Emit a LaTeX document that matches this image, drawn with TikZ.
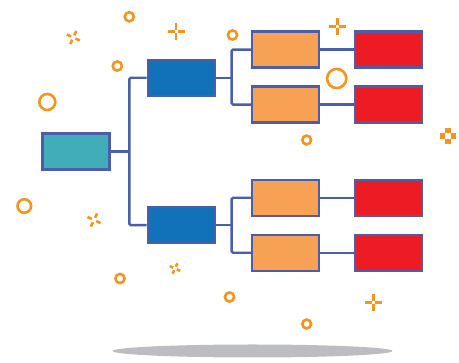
\documentclass[tikz,border=0pt]{standalone}
\usetikzlibrary{calc}
\begin{document}
\begin{tikzpicture}[x=1pt,y=-1pt,
  edgeblue/.style={draw=lineblue,line width=2.4pt},
  boxbase/.style={edgeblue,rectangle,inner sep=0pt,minimum width=67pt,minimum height=36pt},
  tealbox/.style={boxbase,fill=tealc},
  bluebox/.style={boxbase,fill=bluec},
  orangebox/.style={boxbase,fill=orangec},
  redbox/.style={boxbase,fill=redc},
  conn/.style={draw=lineblue,line width=2.4pt,rounded corners=1.5pt},
  ring/.style={draw=deco,line width=2.6pt,fill=none},
  deco line/.style={draw=deco,line width=2.8pt},
]
\definecolor{lineblue}{RGB}{74,94,172}
\definecolor{tealc}{RGB}{65,173,184}
\definecolor{bluec}{RGB}{17,114,186}
\definecolor{orangec}{RGB}{247,161,84}
\definecolor{redc}{RGB}{237,28,36}
\definecolor{deco}{RGB}{247,148,29}
\definecolor{shadowc}{RGB}{188,189,192}

\useasboundingbox (0,0) rectangle (459,363);

% shadow
\fill[shadowc] (252.5,351) ellipse [x radius=140, y radius=6.5];

% boxes
\node[tealbox] (teal) at (76,151.7) {};
\node[bluebox] (b1) at (181.3,77.8) {};
\node[bluebox] (b2) at (181.3,225.2) {};
\node[orangebox] (o1) at (285.6,49.6) {};
\node[orangebox] (o2) at (285.6,104.6) {};
\node[orangebox] (o3) at (285.6,197.8) {};
\node[orangebox] (o4) at (285.6,252.8) {};
\node[redbox] (r1) at (388.7,49.6) {};
\node[redbox] (r2) at (388.7,104.6) {};
\node[redbox] (r3) at (388.7,197.8) {};
\node[redbox] (r4) at (388.7,252.8) {};

% connectors
\coordinate (j1) at (129.3,151.7);
\coordinate (j2) at (231.6,77.8);
\coordinate (j3) at (231.6,225.2);
\draw[conn] (teal.east) -- (j1);
\draw[conn] (b1.west) -| (j1) |- (b2.west);
\draw[conn] (b1.east) -- (j2);
\draw[conn] (o1.west) -| (j2) |- (o2.west);
\draw[conn] (b2.east) -- (j3);
\draw[conn] (o3.west) -| (j3) |- (o4.west);
\draw[conn] (o1.east) -- (r1.west);
\draw[conn] (o2.east) -- (r2.west);
\draw[conn] (o3.east) -- (r3.west);
\draw[conn] (o4.east) -- (r4.west);

% rings
\draw[ring] (129.3,16.8) circle (4.6);
\draw[ring] (117.3,66) circle (4.6);
\draw[ring] (47.3,102) circle (8);
\draw[ring] (232.5,35) circle (4.6);
\draw[ring] (336.7,78.5) circle (9.6);
\draw[ring] (306.7,140) circle (4.4);
\draw[ring] (24.3,206) circle (6.8);
\draw[ring] (120,278.5) circle (4.6);
\draw[ring] (229.5,297) circle (4.6);
\draw[ring] (306.7,324) circle (4.4);

% plus marks
\foreach \cx/\cy in {176/31.3, 337.3/26.7, 373.3/302.3}{
  \draw[deco line] (\cx-8.5,\cy) -- (\cx-1.5,\cy);
  \draw[deco line] (\cx+1.5,\cy) -- (\cx+8.5,\cy);
  \draw[deco line] (\cx,\cy-8.5) -- (\cx,\cy-1.5);
  \draw[deco line] (\cx,\cy+1.5) -- (\cx,\cy+8.5);
}
% checkered plus
\foreach \dx/\dy in {0/-5.5, 0/5.5, -5.5/0, 5.5/0}{
  \fill[deco] (448+\dx-2.75,136+\dy-2.75) rectangle (448+\dx+2.75,136+\dy+2.75);
}

% sparkles
\foreach \cx/\cy/\s in {73.3/37.5/1, 94/220/1, 175/268.5/0.8}{
  \foreach \a in {25,115,205,295}{
    \draw[deco line,line width=2.6pt] ($(\cx,\cy)+(\a:2.4*\s)$) -- ($(\cx,\cy)+(\a:7.2*\s)$);
  }
}
\end{tikzpicture}
\end{document}
